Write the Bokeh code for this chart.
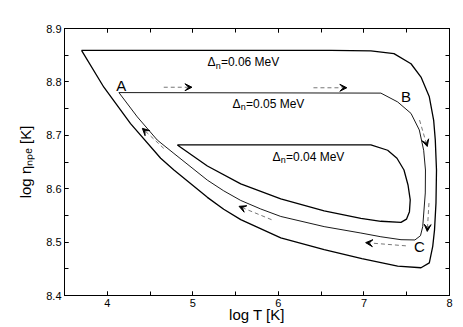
from bokeh.plotting import figure
from bokeh.models import (ColumnDataSource, Arrow, VeeHead, LinearAxis,
                          SingleIntervalTicker)
from bokeh.core.properties import value
from bokeh.embed import file_html
from bokeh.resources import INLINE

# ---------------- data (log T, log eta_npe) ----------------
outer_x = [3.699, 6.613, 7.081, 7.351, 7.550, 7.667, 7.764, 7.815, 7.834, 7.848,
           7.842, 7.825, 7.804, 7.764, 7.667, 7.394, 6.976, 6.535, 6.028, 5.560,
           5.361, 5.170, 4.779, 4.624, 4.272, 3.960, 3.699]
outer_y = [8.859, 8.859, 8.858, 8.853, 8.834, 8.809, 8.772, 8.728, 8.691, 8.635,
           8.573, 8.523, 8.492, 8.461, 8.452, 8.455, 8.469, 8.486, 8.508, 8.542,
           8.5614, 8.5838, 8.635, 8.657, 8.722, 8.790, 8.859]

middle_x = [4.136, 7.198, 7.394, 7.550, 7.647, 7.698, 7.719, 7.717, 7.687, 7.661,
            7.596, 7.433, 7.198, 6.964, 6.535, 6.028, 5.794, 5.560, 5.361, 5.170,
            4.779, 4.585, 4.351, 4.136]
middle_y = [8.780, 8.779, 8.7625, 8.741, 8.710, 8.672, 8.635, 8.592, 8.529, 8.512,
            8.504, 8.5045, 8.510, 8.517, 8.529, 8.548, 8.562, 8.578, 8.596, 8.616,
            8.666, 8.691, 8.7345, 8.780]

inner_x = [4.819, 7.081, 7.277, 7.386, 7.468, 7.515, 7.541, 7.532, 7.497, 7.433,
           7.198, 6.964, 6.535, 6.028, 5.560, 5.170, 4.819]
inner_y = [8.682, 8.682, 8.672, 8.657, 8.635, 8.607, 8.579, 8.557, 8.543, 8.537,
           8.539, 8.5446, 8.5586, 8.581, 8.609, 8.6425, 8.682]

arrow_x0 = [4.66, 6.41, 7.65, 7.76, 7.49, 5.92, 4.66]
arrow_y0 = [8.790, 8.789, 8.7285, 8.573, 8.493, 8.542, 8.6755]
arrow_x1 = [4.99, 6.80, 7.74, 7.74, 7.02, 5.54, 4.41]
arrow_y1 = [8.790, 8.789, 8.679, 8.520, 8.499, 8.567, 8.713]

delta_text = ["=0.06 MeV", "=0.05 MeV", "=0.04 MeV"]
delta_x = [5.170, 5.463, 5.931]
delta_y = [8.837, 8.7595, 8.660]

point_text = ["A", "B", "C"]
point_x = [4.164, 7.491, 7.647]
point_y = [8.794, 8.773, 8.491]

x_label = "log T [K]"
y_label = "log ηₙₚₑ [K]"

# ---------------- figure ----------------
FONT = "Liberation Sans"
X0, X1, Y0, Y1 = 3.5, 8.0, 8.4, 8.9
FW, FH = 385, 267
pxx = (X1 - X0) / FW   # data per pixel
pxy = (Y1 - Y0) / FH

p = figure(frame_width=FW, frame_height=FH, x_range=(X0, X1), y_range=(Y0, Y1),
           output_backend="svg", toolbar_location=None,
           min_border_left=64, min_border_top=28, min_border_right=14,
           min_border_bottom=32)
p.grid.visible = False
p.outline_line_color = "black"
p.outline_line_width = 1
p.background_fill_color = "white"
p.border_fill_color = "white"

xt = SingleIntervalTicker(interval=1, num_minor_ticks=2)
yt = SingleIntervalTicker(interval=0.1, num_minor_ticks=2)


def style_axis(ax, labels=True):
    ax.axis_line_color = "black"
    ax.major_tick_in = 4
    ax.major_tick_out = 0
    ax.minor_tick_in = 4
    ax.minor_tick_out = 0
    ax.major_tick_line_color = "black"
    ax.minor_tick_line_color = "black"
    if labels:
        ax.major_label_text_font = FONT
        ax.major_label_text_font_size = "11px"
        ax.major_label_text_color = "black"
        ax.axis_label_text_font = FONT
        ax.axis_label_text_font_size = "15px"
        ax.axis_label_text_font_style = "normal"
        ax.axis_label_text_color = "black"
    else:
        ax.major_label_text_color = None
        ax.major_label_standoff = 0


p.xaxis.ticker = xt
p.yaxis.ticker = yt
xa, ya = p.xaxis[0], p.yaxis[0]
style_axis(xa)
style_axis(ya)
xa.major_label_standoff = 3
xa.axis_label = x_label
xa.axis_label_standoff = -4
ya.major_label_standoff = 3
ya.axis_label = y_label
ya.axis_label_standoff = 9

top_ax = LinearAxis(ticker=xt)
right_ax = LinearAxis(ticker=yt)
style_axis(top_ax, labels=False)
style_axis(right_ax, labels=False)
p.add_layout(top_ax, "above")
p.add_layout(right_ax, "right")

# loops
p.line(outer_x, outer_y, line_color="black", line_width=1.3, line_join="round")
p.line(middle_x, middle_y, line_color="black", line_width=0.9, line_join="round")
p.line(inner_x, inner_y, line_color="black", line_width=1.3, line_join="round")

# dashed arrows
asrc = ColumnDataSource(dict(x0=arrow_x0, y0=arrow_y0, x1=arrow_x1, y1=arrow_y1))
p.add_layout(Arrow(end=VeeHead(size=7, fill_color="black", line_color="black",
                               line_width=1),
                   x_start="x0", y_start="y0", x_end="x1", y_end="y1", source=asrc,
                   line_color="#777777", line_width=1, line_dash="4 3"))

# Delta_n labels
p.text(delta_x, delta_y, text=["Δ"] * 3, text_font=value(FONT), text_font_size="12px",
       text_baseline="alphabetic", text_align="left", text_color="black")
p.text([x + 8.3 * pxx for x in delta_x], [y - 3.5 * pxy for y in delta_y],
       text=["n"] * 3, text_font=value(FONT), text_font_size="9px",
       text_baseline="alphabetic", text_align="left", text_color="black")
p.text([x + 13.5 * pxx for x in delta_x], delta_y, text=delta_text,
       text_font=value(FONT), text_font_size="12px",
       text_baseline="alphabetic", text_align="left", text_color="black")

# A, B, C
p.text(point_x, point_y, text=point_text, text_font=value(FONT), text_font_size="15px",
       text_baseline="middle", text_align="center", text_color="black")

open("out.html", "w").write(file_html(p, INLINE))
